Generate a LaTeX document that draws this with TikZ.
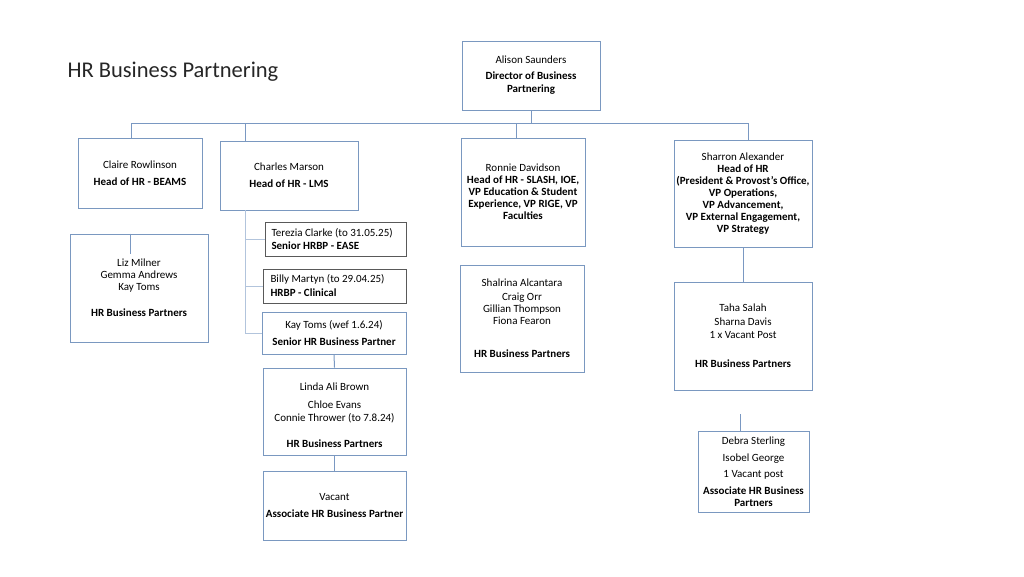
\documentclass[tikz,border=0pt]{standalone}
\usepackage{fontspec}
\setmainfont{Carlito}
\usetikzlibrary{positioning,calc}
\definecolor{boxblue}{RGB}{122,152,192}
\definecolor{lineblue}{RGB}{122,152,194}
\definecolor{paleblue}{RGB}{178,196,220}
\definecolor{boxgrey}{RGB}{89,89,89}

\begin{document}
\begin{tikzpicture}[x=1pt,y=-1pt,
    box/.style={draw=boxblue,line width=.9pt,inner sep=0pt,align=center,
      font=\fontsize{11}{12}\selectfont},
    greybox/.style={box,draw=boxgrey,align=flush left},
    link/.style={draw=lineblue,line width=1pt},
    sublink/.style={draw=paleblue,line width=.8pt}]
  \useasboundingbox (0,0) rectangle (1024,576);

  \node[anchor=west,font=\fontsize{22.5}{27}\selectfont,text=black!85] (title) at (64,72) {HR Business Partnering};

  % top level
  \node[box,minimum width=138pt,minimum height=69pt] (director) at (531,75.5)
    {Alison Saunders\\[4pt]\textbf{Director of Business}\\[1pt]\textbf{Partnering}};

  % heads of HR
  \node[box,minimum width=124pt,minimum height=70pt] (claire) at (140,173)
    {Claire Rowlinson\\[5pt]\textbf{Head of HR - BEAMS}};
  \node[box,minimum width=138pt,minimum height=69pt] (charles) at (289,175.5)
    {Charles Marson\\[5pt]\textbf{Head of HR - LMS}};
  \node[box,minimum width=124pt,minimum height=108pt] (ronnie) at (523,192)
    {Ronnie Davidson\\\textbf{Head of HR - SLASH, IOE,}\\\textbf{VP Education \& Student}\\
     \textbf{Experience, VP RIGE, VP}\\\textbf{Faculties}};
  \node[box,minimum width=138pt,minimum height=107pt] (sharron) at (743,193.5)
    {Sharron Alexander\\\textbf{Head of HR}\\\textbf{(President \& Provost’s Office,}\\
     \textbf{VP Operations,}\\\textbf{VP Advancement,}\\\textbf{VP External Engagement,}\\
     \textbf{VP Strategy}};

  % partners
  \node[box,minimum width=138pt,minimum height=108pt] (liz) at (139,288)
    {Liz Milner\\Gemma Andrews\\Kay Toms\\[14pt]\textbf{HR Business Partners}};
  \node[greybox,minimum width=141pt,minimum height=34pt,text width=128pt] (terezia) at (335.5,239)
    {Terezia Clarke (to 31.05.25)\\[1pt]\textbf{Senior HRBP - EASE}};
  \node[greybox,minimum width=143pt,minimum height=34pt,text width=128pt] (billy) at (334.5,286)
    {Billy Martyn (to 29.04.25)\\[2pt]\textbf{HRBP - Clinical}};
  \node[box,minimum width=144pt,minimum height=42pt] (kay) at (334,333)
    {Kay Toms (wef 1.6.24)\\[5pt]\textbf{Senior HR Business Partner}};
  \node[box,minimum width=143pt,minimum height=87pt] (linda) at (334.5,411.5)
    {\mbox{}\\[4pt]Linda Ali Brown\\[6pt]Chloe Evans\\[1pt]Connie Thrower (to 7.8.24)\\[14pt]\textbf{HR Business Partners}};
  \node[box,minimum width=143pt,minimum height=69pt] (vacant) at (334.5,505.5)
    {Vacant\\[5pt]\textbf{Associate HR Business Partner}};
  \node[box,minimum width=124pt,minimum height=107pt] (shalrina) at (522,318.5)
    {Shalrina Alcantara\\[2pt]Craig Orr\\Gillian Thompson\\Fiona Fearon\\[21pt]\textbf{HR Business Partners}};
  \node[box,minimum width=138pt,minimum height=108pt] (taha) at (743,336)
    {Taha Salah\\[2pt]Sharna Davis\\[1pt]1 x Vacant Post\\[17pt]\textbf{HR Business Partners}};
  \node[box,minimum width=111pt,minimum height=81pt] (debra) at (753.5,471.5)
    {Debra Sterling\\[5pt]Isobel George\\[4pt]1 Vacant post\\[5pt]\textbf{Associate HR Business}\\\textbf{Partners}};

  % connectors
  \coordinate (bus) at (531,123);
  \draw[link] (director.south) -- (bus);
  \draw[link] ([xshift=-9pt]claire.north) |- (bus);
  \draw[link] ([xshift=26pt]charles.north west) |- (bus);
  \draw[link] ([xshift=-7pt]ronnie.north) |- (bus);
  \draw[link] ([xshift=5pt]sharron.north) |- (bus);

  \draw[sublink] ([xshift=26pt]charles.south west) |- (terezia.west);
  \draw[sublink] ([xshift=26pt]charles.south west) |- (billy.west);
  \draw[sublink] ([xshift=26pt]charles.south west) |- (kay.west);
  \draw[link] (kay.south) -- (linda.north);
  \draw[link] (linda.south) -- (vacant.north);
  \draw[link] (sharron.south) -- (taha.north);

  \coordinate (lizstub) at (130,254);
  \draw[link] (lizstub |- liz.north) -- (lizstub);
  \coordinate (debrastub) at (740,414);
  \draw[link] (debrastub) -- (debrastub |- debra.north);
\end{tikzpicture}
\end{document}
